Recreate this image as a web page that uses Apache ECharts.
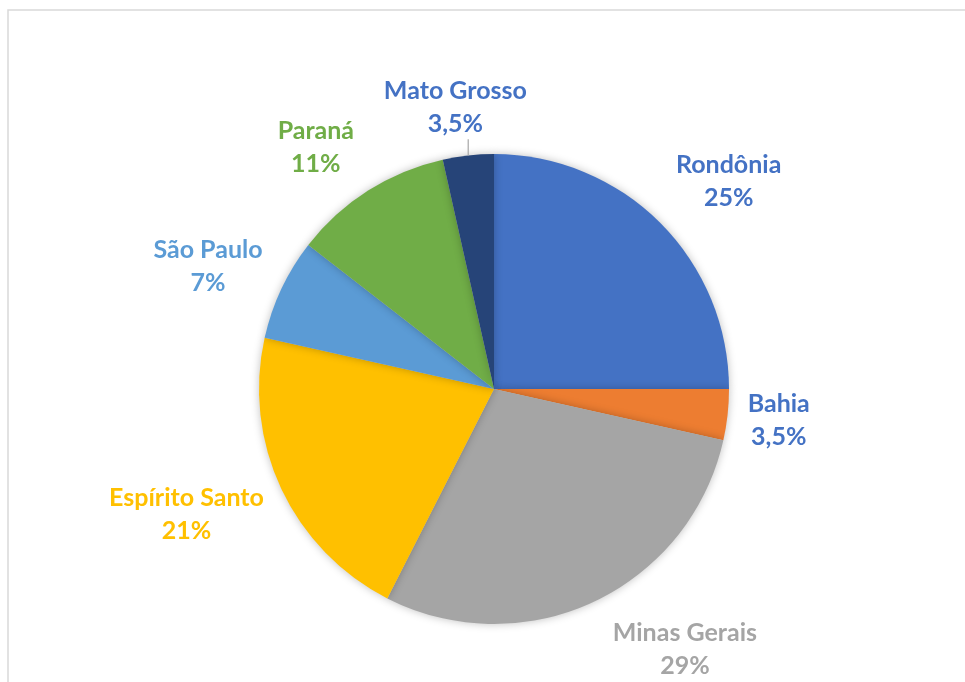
<!DOCTYPE html>
<html>
<head>
<meta charset="utf-8">
<script src="https://cdn.jsdelivr.net/npm/echarts@6/dist/echarts.min.js"></script>
<style>
html,body{margin:0;padding:0;background:#fff;}
#chart{width:965px;height:682px;}
</style>
</head>
<body>
<div id="chart"></div>
<script>
// ---- data ----
const states = ['Rondônia', 'Bahia', 'Minas Gerais', 'Espírito Santo', 'São Paulo', 'Paraná', 'Mato Grosso'];
const shares = [25, 3.5, 29, 21, 7, 11, 3.5];

// ---- styles ----
const sliceColors = ['#4472C4', '#ED7D31', '#A5A5A5', '#FFC000', '#5B9BD5', '#70AD47', '#264478'];
const labelColors = ['#4472C4', '#4472C4', '#A5A5A5', '#FFC000', '#5B9BD5', '#70AD47', '#4472C4'];
const angleAdjust = [3.5, 0, -11, 3, -2, -4, -1.5];
const labelGap = [17, 17, 19, 13, 13, 16, 7];
const showLeader = [false, false, false, false, false, false, true];

const CX = 494, CY = 389, R = 235;
const total = shares.reduce((a, b) => a + b, 0);
const midAngles = [];
let acc = 0;
shares.forEach(v => { midAngles.push((acc + v / 2) / total * 360); acc += v; });

const leaders = {};

const chart = echarts.init(document.getElementById('chart'), null, {renderer: 'canvas'});
const border = {
  type: 'rect',
  id: 'border',
  shape: {x: 8, y: 10, width: 1000, height: 1000},
  style: {fill: 'none', stroke: '#d9d9d9', lineWidth: 1.5},
  silent: true
};
chart.setOption({
  backgroundColor: '#fff',
  animation: false,
  graphic: [border],
  series: [{
    type: 'pie',
    center: [CX, CY],
    radius: R,
    startAngle: 90,
    clockwise: true,
    avoidLabelOverlap: false,
    itemStyle: {shadowBlur: 8, shadowColor: 'rgba(0,0,0,0.25)'},
    label: {
      show: true,
      position: 'outside',
      fontFamily: 'Lato',
      fontWeight: 'bold',
      fontSize: 25,
      lineHeight: 33,
      formatter: p => p.name + '\n' + String(p.value).replace('.', ',') + '%'
    },
    labelLine: {show: false},
    labelLayout: function (params) {
      const i = params.dataIndex;
      const th = (midAngles[i] + angleAdjust[i]) * Math.PI / 180;
      const sx = Math.sin(th), sy = -Math.cos(th);
      const w = params.labelRect.width, h = params.labelRect.height;
      const D = R + labelGap[i] + Math.abs(sx) * w / 2 + Math.abs(sy) * h / 2;
      const x = CX + D * sx, y = CY + D * sy;
      if (showLeader[i]) {
        const tm = midAngles[i] * Math.PI / 180;
        leaders[i] = {
          x1: CX + R * Math.sin(tm), y1: CY - R * Math.cos(tm),
          y2: y + h / 2 - 1
        };
      }
      return {x: x, y: y, align: 'center', verticalAlign: 'middle'};
    },
    data: states.map((s, i) => ({
      name: s,
      value: shares[i],
      itemStyle: {color: sliceColors[i]},
      label: {color: labelColors[i]}
    }))
  }]
});

const leaderLines = Object.keys(leaders).map(k => ({
  type: 'line',
  id: 'leader' + k,
  silent: true,
  z: 100,
  shape: {x1: leaders[k].x1, y1: leaders[k].y1, x2: leaders[k].x1, y2: leaders[k].y2},
  style: {stroke: '#a6a6a6', lineWidth: 1.2}
}));
chart.setOption({graphic: [border].concat(leaderLines)});
</script>
</body>
</html>
